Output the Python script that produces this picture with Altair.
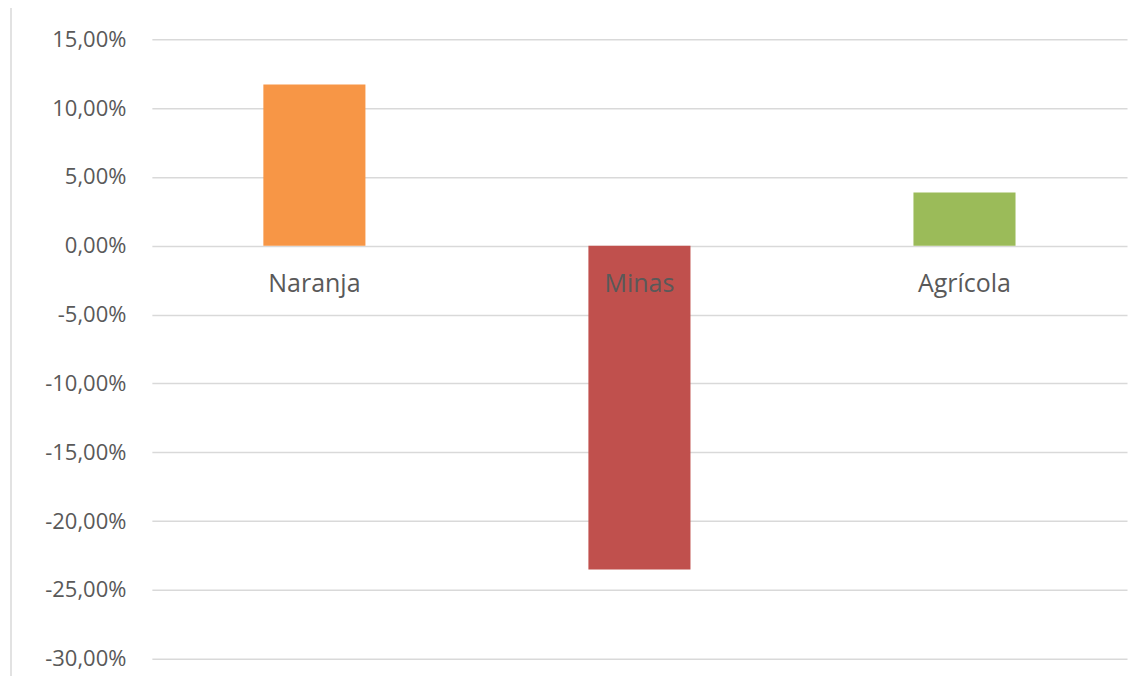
import altair as alt
import pandas as pd

categories = ["Naranja", "Minas", "Agrícola"]
values = [11.72, -23.52, 3.87]
colors = ["#F79646", "#C0504D", "#9BBB59"]
y_ticks = [15, 10, 5, 0, -5, -10, -15, -20, -25, -30]

df = pd.DataFrame({"cat": categories, "val": values})

W, H = 976, 620
FONT = "Open Sans"

bars = alt.Chart(df).mark_bar().encode(
    x=alt.X("cat:N", sort=categories,
            scale=alt.Scale(paddingInner=0.686, paddingOuter=0.343),
            axis=alt.Axis(title=None, orient="bottom", offset=-(H - 206), ticks=False,
                          tickSize=0, domain=False, grid=False, labelAngle=0, labelBaseline="middle",
                          labelPadding=38, labelFont=FONT, labelFontSize=25,
                          labelColor="#595959", zindex=1)),
    y=alt.Y("val:Q", scale=alt.Scale(domain=[-30, 15], nice=False, zero=False),
            axis=alt.Axis(title=None, values=y_ticks, ticks=False, domain=False,
                          labelExpr="replace(replace(format(datum.value, '.2f'), '.', ','), '\u2212', '-') + '%'",
                          labelPadding=26, labelFont=FONT, labelFontSize=22,
                          labelColor="#595959", grid=True, gridColor="#d9d9d9",
                          gridWidth=1.5)),
    color=alt.Color("cat:N", scale=alt.Scale(domain=categories, range=colors), legend=None),
)

border = alt.Chart(pd.DataFrame({"a": [0]})).mark_rule(color="#d9d9d9", strokeWidth=1.5).encode(
    x=alt.value(-141), y=alt.value(-35), y2=alt.value(H + 20)
)

chart = alt.layer(bars, border).properties(
    width=W, height=H,
    background="white",
    autosize=alt.AutoSizeParams(type="none"),
    padding={"left": 144, "top": 31, "right": 10, "bottom": 17},
).configure_view(stroke=None, strokeWidth=0)

chart.save("out.html", embed_options={"renderer": "svg", "actions": False})
